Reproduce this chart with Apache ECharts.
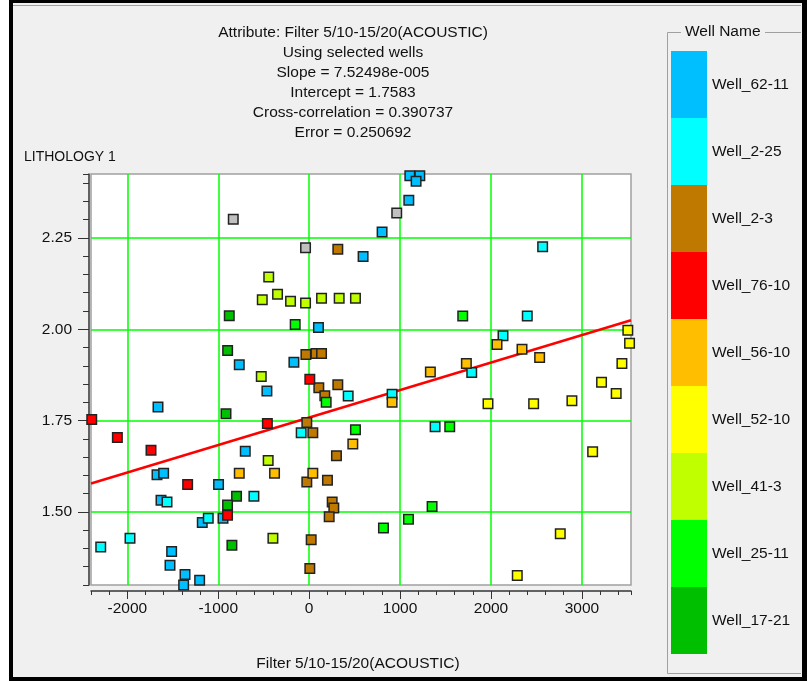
<!DOCTYPE html>
<html><head><meta charset="utf-8">
<script src="https://cdn.jsdelivr.net/npm/echarts@6/dist/echarts.min.js"></script>
<style>html,body{margin:0;padding:0;background:#fff}#c{width:807px;height:681px}</style>
</head><body><div id="c"></div>
<script>
// ---- text ----
const titleLines = [
  'Attribute: Filter 5/10-15/20(ACOUSTIC)',
  'Using selected wells',
  'Slope = 7.52498e-005',
  'Intercept = 1.7583',
  'Cross-correlation = 0.390737',
  'Error = 0.250692'
];
const yAxisTitle = 'LITHOLOGY 1';
const xAxisTitle = 'Filter 5/10-15/20(ACOUSTIC)';
const legendTitle = 'Well Name';

// ---- regression ----
const slope = 7.52498e-5;
const intercept = 1.7583;

// ---- axes ----
const xExtent = [-2400, 3540];
const yExtent = [1.30, 2.425];
const xMajorTicks = [-2000, -1000, 0, 1000, 2000, 3000];
const yMajorTicks = [1.50, 1.75, 2.00, 2.25];

// ---- wells ----
const wellNames = ['Well_62-11', 'Well_2-25', 'Well_2-3', 'Well_76-10', 'Well_56-10', 'Well_52-10', 'Well_41-3', 'Well_25-11', 'Well_17-21'];
const wellColors = ['#00bfff', '#00ffff', '#bf7800', '#ff0000', '#ffbf00', '#ffff00', '#bfff00', '#00ff00', '#00bf00'];

const well_62_11 = [[1107,2.42],[1217,2.42],[1176,2.405],[1096,2.353],[802,2.266],[593,2.199],[102,2.005],[-168,1.910],[-769,1.903],[-465,1.831],[-1663,1.787],[-703,1.666],[-1674,1.602],[-1601,1.606],[-997,1.575],[-1630,1.532],[-948,1.483],[-1176,1.471],[-1513,1.392],[-1531,1.354],[-1366,1.329],[-1205,1.313],[-1381,1.30]];
const well_2_25 = [[2568,2.226],[2399,2.036],[2132,1.982],[1788,1.882],[1385,1.733],[429,1.817],[912,1.822],[-88,1.717],[-608,1.543],[-1564,1.527],[-1110,1.483],[-2293,1.404],[-1971,1.428]];
const well_2_3 = [[315,2.219],[-36,1.931],[74,1.934],[136,1.934],[106,1.840],[315,1.848],[172,1.818],[-26,1.745],[40,1.717],[300,1.654],[-26,1.582],[201,1.587],[253,1.527],[271,1.511],[220,1.487],[22,1.424],[7,1.345]];
const well_76_10 = [[7,1.863],[-460,1.742],[-2392,1.753],[-2110,1.704],[-1740,1.669],[-1337,1.575],[-898,1.491]];
const well_56_10 = [[1333,1.883],[2066,1.958],[2341,1.945],[2535,1.923],[1729,1.906],[912,1.800],[480,1.686],[-381,1.606],[40,1.606],[-769,1.606]];
const well_52_10 = [[3505,1.997],[3524,1.962],[3440,1.906],[3216,1.855],[3377,1.824],[1967,1.796],[2469,1.796],[2890,1.804],[3118,1.665],[2762,1.440],[2289,1.326]];
const well_41_3 = [[-445,2.143],[-516,2.081],[-348,2.096],[-205,2.077],[-40,2.072],[136,2.085],[330,2.085],[509,2.085],[-527,1.871],[-451,1.641],[-399,1.428]];
const well_25_11 = [[-154,2.013],[1689,2.036],[187,1.800],[509,1.725],[1546,1.733],[817,1.456],[1092,1.480],[1352,1.515]];
const well_17_21 = [[-879,2.037],[-897,1.942],[-915,1.769],[-799,1.543],[-898,1.519],[-850,1.409]];
const otherWells = [[-835,2.301],[-40,2.223],[963,2.318]];

const wellData = [well_62_11, well_2_25, well_2_3, well_76_10, well_56_10, well_52_10, well_41_3, well_25_11, well_17_21];
const drawOrder = [8, 0, 1, 2, 3, 4, 5, 6, 7];

const FONT = "'Liberation Sans', Arial, sans-serif";
const FS = 15.5;
const TXT = '#111';
const G = '#00ff00', T = 'rgba(0,0,0,0)';

const chart = echarts.init(document.getElementById('c'), null, {renderer: 'canvas'});

function scatterSeries(name, data, color) {
  return {
    type: 'scatter', name: name, data: data, symbol: 'rect', symbolSize: 9.5,
    itemStyle: {color: color, borderColor: '#222', borderWidth: 1.5, opacity: 1},
    emphasis: {disabled: true}, animation: false
  };
}

const series = [{
  type: 'line', name: 'fit', silent: true, symbol: 'none', animation: false,
  data: [[xExtent[0], intercept + slope * xExtent[0]], [xExtent[1], intercept + slope * xExtent[1]]],
  lineStyle: {color: '#ff0000', width: 2.5}, z: 2
}, scatterSeries('Other', otherWells, '#c0c0c0')];
drawOrder.forEach(i => series.push(scatterSeries(wellNames[i], wellData[i], wellColors[i])));

const axisText = {color: TXT, fontSize: FS, fontFamily: FONT};
const titleText = {fontSize: FS, fontWeight: 'normal', color: TXT, lineHeight: 20, fontFamily: FONT};

chart.setOption({
  backgroundColor: '#ffffff',
  animation: false,
  title: [
    {text: titleLines.join('\n'), left: 353, top: 23, padding: 0, textAlign: 'center', textStyle: titleText},
    {text: yAxisTitle, left: 24, top: 147, padding: 0, textStyle: Object.assign({}, titleText, {fontSize: 14})},
    {text: xAxisTitle, left: 358, top: 654, padding: 0, textAlign: 'center', textStyle: titleText}
  ],
  grid: {left: 91, right: 176, top: 174, bottom: 96, show: true, backgroundColor: '#ffffff',
         borderColor: '#a0a0a0', borderWidth: 1.5, containLabel: false, outerBoundsMode: 'none'},
  legend: {
    show: true, orient: 'vertical', left: 671, top: 51, padding: 0,
    itemWidth: 36, itemHeight: 67, itemGap: 0, icon: 'rect', selectedMode: false,
    data: wellNames, itemStyle: {borderWidth: 0},
    textStyle: {fontSize: FS, color: TXT, fontFamily: FONT, padding: [23, 0, 0, 0]}
  },
  xAxis: [{
    type: 'value', min: xExtent[0], max: xExtent[1], interval: 200, position: 'bottom', offset: 6,
    axisLine: {show: true, onZero: false, lineStyle: {color: '#333', width: 1.5}},
    axisTick: {show: true, length: 4, lineStyle: {color: '#333', width: 1}},
    axisLabel: Object.assign({margin: 10,
      formatter: v => (Math.abs(v % 1000) < 1e-6 ? String(v) : '')}, axisText),
    splitLine: {show: true, lineStyle: {color: [T, T, G, T, T], width: 1.5}}
  }, {
    type: 'value', min: xExtent[0], max: xExtent[1], interval: 200, position: 'bottom', offset: 6,
    axisLine: {show: false, onZero: false},
    axisTick: {show: true, length: 8, customValues: xMajorTicks, lineStyle: {color: '#333', width: 1}},
    axisLabel: {show: false}, splitLine: {show: false}
  }],
  yAxis: [{
    type: 'value', min: yExtent[0], max: yExtent[1], interval: 0.05, position: 'left', offset: 2,
    axisLine: {show: true, onZero: false, lineStyle: {color: '#333', width: 1.5}},
    axisTick: {show: true, length: 6, lineStyle: {color: '#333', width: 1}},
    axisLabel: Object.assign({margin: 17,
      formatter: v => (Math.abs(v * 4 - Math.round(v * 4)) < 1e-6 ? v.toFixed(2) : '')}, axisText),
    splitLine: {show: true, lineStyle: {color: [T, T, T, T, G], width: 1.5}}
  }, {
    type: 'value', min: yExtent[0], max: yExtent[1], interval: 0.05, position: 'left', offset: 2,
    axisLine: {show: false, onZero: false},
    axisTick: {show: true, length: 11, customValues: yMajorTicks, lineStyle: {color: '#333', width: 1}},
    axisLabel: {show: false}, splitLine: {show: false}
  }],
  graphic: [
    {type: 'rect', z: -10, silent: true, shape: {x: 11, y: 1, width: 793, height: 678},
     style: {fill: '#f0f0f0', stroke: '#000', lineWidth: 4}},
    {type: 'rect', z: -9, silent: true, shape: {x: 802, y: 0, width: 5, height: 681},
     style: {fill: '#000'}},
    {type: 'line', z: -9, silent: true, shape: {x1: 13, y1: 5.5, x2: 801, y2: 5.5}, style: {stroke: '#a0a0a0', lineWidth: 1}},
    {type: 'polyline', silent: true, shape: {points: [[681, 32.5], [667.5, 32.5], [667.5, 673.5], [801, 673.5]]},
     style: {stroke: '#a0a0a0', lineWidth: 1, fill: null}},
    {type: 'line', silent: true, shape: {x1: 765, y1: 32.5, x2: 801, y2: 32.5}, style: {stroke: '#a0a0a0', lineWidth: 1}},
    {type: 'text', silent: true, style: {text: legendTitle, x: 685, y: 32, fill: TXT, font: FS + 'px ' + FONT,
     align: 'left', verticalAlign: 'middle', textAlign: 'left', textVerticalAlign: 'middle'}}
  ],
  series: series
});
</script></body></html>
